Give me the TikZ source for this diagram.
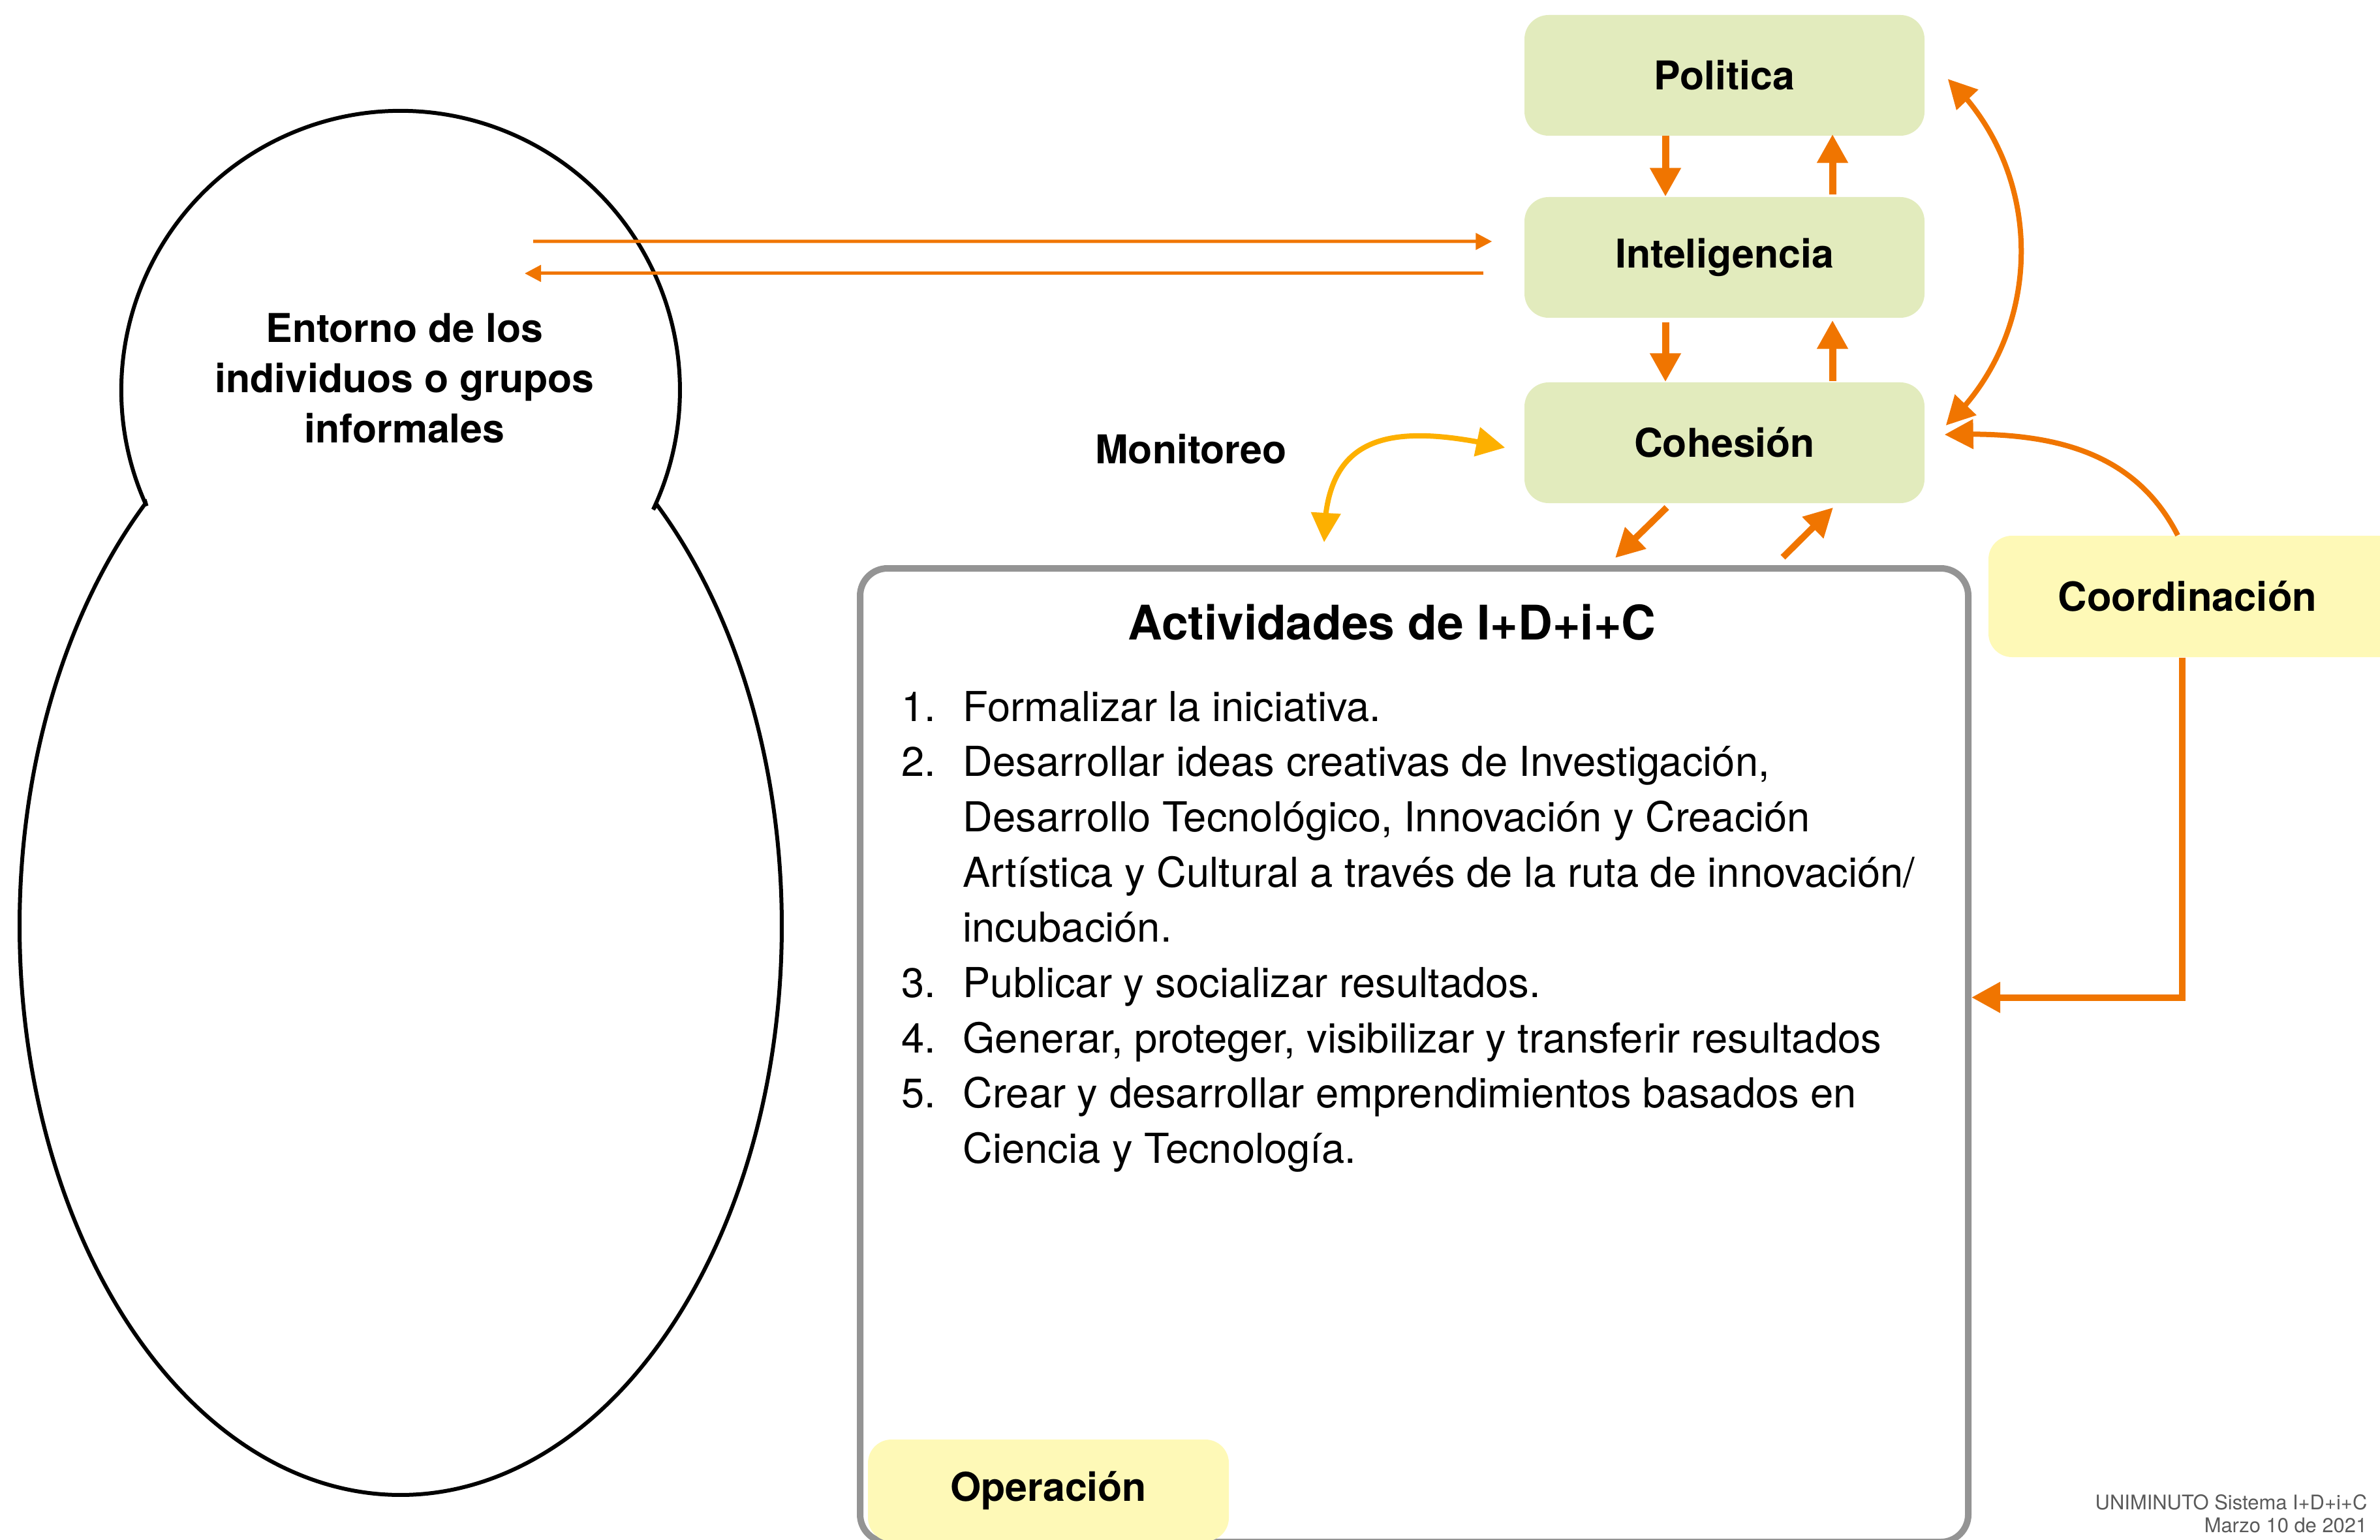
\documentclass[tikz,border=0pt]{standalone}
\usepackage{fontspec}
\setmainfont{TeX Gyre Heros}
\usetikzlibrary{arrows.meta,calc,bending}
\definecolor{boxgreen}{RGB}{226,235,189}
\definecolor{boxyellow}{RGB}{254,249,183}
\definecolor{arrorange}{RGB}{240,117,0}
\definecolor{arramber}{RGB}{253,176,0}
\definecolor{framegray}{RGB}{148,148,148}
\definecolor{foottext}{RGB}{90,90,90}
\begin{document}
\begin{tikzpicture}[x=1cm,y=1cm,
  lbl/.style={font=\fontsize{17.3pt}{20pt}\selectfont\bfseries},
  greenbox/.style={lbl, fill=boxgreen, rounded corners=0.37cm, minimum width=6.13cm, minimum height=1.85cm, inner sep=0},
  yellowbox/.style={lbl, fill=boxyellow, rounded corners=0.36cm, inner sep=0},
  thickarrow/.style={draw=arrorange, line width=0.11cm, -{Triangle[length=0.44cm,width=0.45cm]}},
  diagarrow/.style={draw=arrorange, line width=0.10cm, -{Triangle[length=0.44cm,width=0.44cm]}},
  curvearrow/.style={draw=arrorange, line width=0.08cm, {Triangle[length=0.44cm,width=0.44cm]}-{Triangle[length=0.44cm,width=0.44cm]}},
  coordarrow/.style={draw=arrorange, line width=0.08cm, -{Triangle[length=0.44cm,width=0.44cm]}},
  monarrow/.style={draw=arramber, line width=0.08cm, {Triangle[length=0.44cm,width=0.44cm]}-{Triangle[length=0.45cm,width=0.44cm]}},
  thinarrow/.style={draw=arrorange, line width=0.05cm, -{Triangle[length=0.25cm,width=0.25cm]}},
]
\useasboundingbox (0,0) rectangle (36.47,-23.59);

% Activities frame and operation box
\node[draw=framegray, line width=0.10cm, rounded corners=0.42cm, minimum width=16.98cm, minimum height=14.92cm, inner sep=0] (act) at (21.67,-16.17) {};
\node[yellowbox, minimum width=5.53cm, minimum height=1.56cm] (oper) at (16.065,-22.84) {Operación};

% Snowman outline
\draw[line width=0.06cm] (2.245,-7.754) arc[start angle=204.5, end angle=-25.3, radius=4.28]
  -- ($(6.14,-14.19)+(47.8:5.84 and 8.72)$)
  arc[start angle=47.8, end angle=-228, x radius=5.84, y radius=8.72] -- cycle;
\node[lbl, align=center, font=\fontsize{17.3pt}{21.9pt}\selectfont\bfseries] (ent) at (6.20,-5.80) {Entorno de los\\individuos o grupos\\informales};
\coordinate (entR) at (8.17,-3.70);
\coordinate (entL) at (8.04,-4.19);

% Green boxes
\node[greenbox] (pol) at (26.425,-1.155) {Politica};
\node[greenbox] (intel) at (26.425,-3.945) {Inteligencia};
\node[greenbox] (coh) at (26.425,-6.785) {Cohesión};

% Coordination box
\node[yellowbox, minimum width=6.43cm, minimum height=1.86cm, font=\fontsize{17.5pt}{20pt}\selectfont\bfseries] (coord) at (33.685,-9.14) {Coordinación\hspace*{0.33cm}};

% Texts
\node[lbl, anchor=base, inner sep=0] (mon) at (18.25,-7.10) {Monitoreo};
\node[anchor=base, inner sep=0, font=\fontsize{20.8pt}{24pt}\selectfont\bfseries] (title) at (21.33,-9.80) {Actividades de I+D+i+C};
\node[anchor=base west, inner sep=0, font=\fontsize{18pt}{24.1pt}\selectfont] (list) at (13.81,-11.05) {%
\begin{tabular}[t]{@{}l@{}}
\makebox[0.94cm][l]{1.}Formalizar la iniciativa.\\
\makebox[0.94cm][l]{2.}Desarrollar ideas creativas de Investigación,\\
\hspace*{0.94cm}Desarrollo Tecnológico, Innovación y Creación\\
\hspace*{0.94cm}Artística y Cultural a través de la ruta de innovación/\\
\hspace*{0.94cm}incubación.\\
\makebox[0.94cm][l]{3.}Publicar y socializar resultados.\\
\makebox[0.94cm][l]{4.}Generar, proteger, visibilizar y transferir resultados\\
\makebox[0.94cm][l]{5.}Crear y desarrollar emprendimientos basados en\\
\hspace*{0.94cm}Ciencia y Tecnología.
\end{tabular}};
\node[anchor=south east, inner sep=0, align=right, text=foottext, font=\fontsize{8.8pt}{10.2pt}\selectfont] (foot) at (36.28,-23.50) {UNIMINUTO Sistema I+D+i+C\\Marzo 10 de 2021};

% Vertical arrows between green boxes
\draw[thickarrow] ($(pol.south)+(-0.905,0.01)$) -- ($(intel.north)+(-0.905,0)$);
\draw[thickarrow] ($(intel.north)+(1.655,0.03)$) -- ($(pol.south)+(1.655,0.03)$);
\draw[thickarrow] ($(intel.south)+(-0.905,-0.06)$) -- ($(coh.north)+(-0.905,0)$);
\draw[thickarrow] ($(coh.north)+(1.655,0.01)$) -- ($(intel.south)+(1.655,-0.03)$);

% Curved arrow Politica <-> Cohesion
\draw[curvearrow] ($(pol.east)+(0.35,-0.055)$) to[bend left=47] ($(coh.east)+(0.32,0.265)$);

% Coordination -> Cohesion
\draw[coordarrow] ($(coord.north)+(-0.315,0)$) to[out=117, in=2] ($(coh.east)+(0.30,0.125)$);

% Coordination -> Activities
\draw[thickarrow, line width=0.10cm] ($(coord.south)+(-0.245,0)$) |- ($(act.east)+(0,0.885)$);

% Cohesion <-> Activities
\draw[diagarrow] ($(coh.south)+(-0.885,-0.06)$) -- ($(act.north)+(3.08,0.11)$);
\draw[diagarrow] ($(act.north)+(5.65,0.12)$) -- ($(coh.south)+(1.665,-0.06)$);

% Monitoring arrow
\coordinate (monB) at (20.29,-8.31);
\draw[monarrow] ($(coh.west)+(-0.29,-0.075)$) .. controls (21.12,-6.41) and (20.29,-6.76) .. (monB);

% Thin arrows between head and Inteligencia
\draw[thinarrow] (entR) -- ($(intel.west)+(-0.49,0.245)$);
\draw[thinarrow] ($(intel.west)+(-0.62,-0.245)$) -- (entL);
\end{tikzpicture}
\end{document}
